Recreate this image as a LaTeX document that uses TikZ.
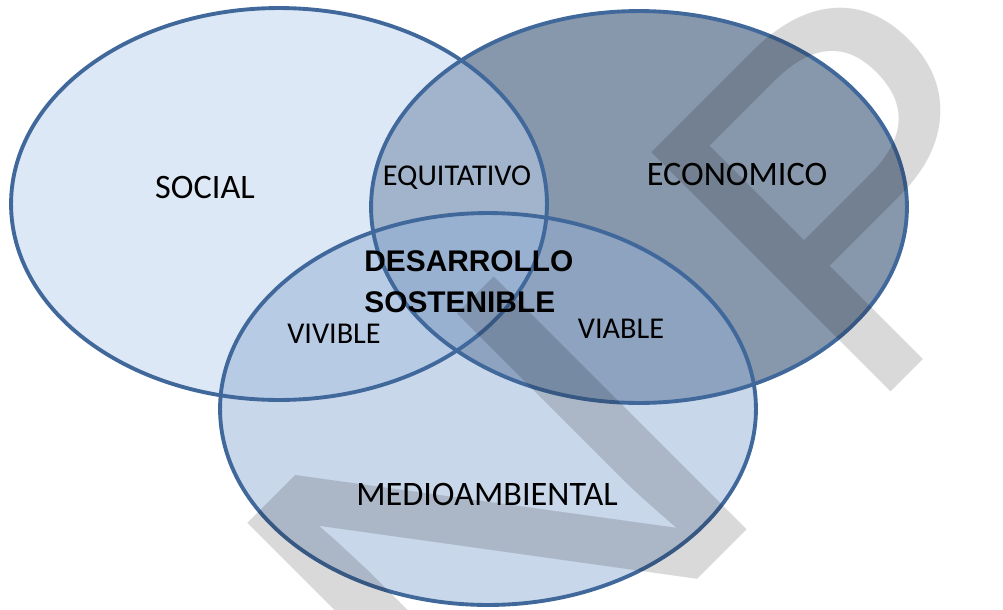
\documentclass[tikz,border=0pt]{standalone}
\usepackage{fontspec}
\setmainfont{Carlito}
\newfontfamily\arialfont{Liberation Sans}
\usetikzlibrary{shapes.geometric}

\definecolor{ringline}{HTML}{41689B}
\definecolor{econfill}{HTML}{8797AC}
\definecolor{socialfill}{HTML}{BBD1ED}
\definecolor{envfill}{HTML}{93AFD5}

\begin{document}
\begin{tikzpicture}[x=0.02cm, y=-0.02cm,
every node/.style = {inner sep=0pt, align=center},
blob/.style = {shape=ellipse, minimum width=10.72cm, minimum height=7.84cm},
ring/.style = {blob, draw=ringline, line width=2.2pt},
big/.style = {anchor=base, font=\fontsize{19.5}{22}\selectfont},
small/.style = {anchor=base, font=\fontsize{17.2}{20}\selectfont},
core/.style = {anchor=north west, align=left,
	font=\arialfont\bfseries\fontsize{17}{23.3}\selectfont},
wmark/.style = {anchor=base west, text=black, text opacity=0.15}]

\useasboundingbox (0,0) rectangle (1003,609);

% circles
\node[blob, fill=econfill] (econ) at (639,207) {};
\node[blob, fill=socialfill, fill opacity=0.5] (social) at (279,204) {};
\node[blob, fill=envfill, fill opacity=0.5] (env) at (488,409) {};
\node[ring] at (social) {};
\node[ring] at (econ) {};
\node[ring] at (env) {};

% texts
\node[big] (lsocial) at (205,198) {SOCIAL};
\node[big] (lecon) at (737,185) {ECONOMICO};
\node[big] (lenv) at (487,505) {MEDIOAMBIENTAL};
\node[small] (lequi) at (457,185) {EQUITATIVO};
\node[small] (lviv) at (334,343) {VIVIBLE};
\node[small] (lvia) at (621,338) {VIABLE};
\node[core] (lcore) at (364,250) {DESARROLLO\\SOSTENIBLE};

% watermark
\node[wmark, font=\arialfont\fontsize{296}{296}\selectfont,
	rotate=45, xscale=1.2] (wmN) at (464,813) {N};
\node[wmark, font=\arialfont\fontsize{280}{280}\selectfont,
	rotate=45] (wmP) at (862,421) {P};
\end{tikzpicture}
\end{document}
